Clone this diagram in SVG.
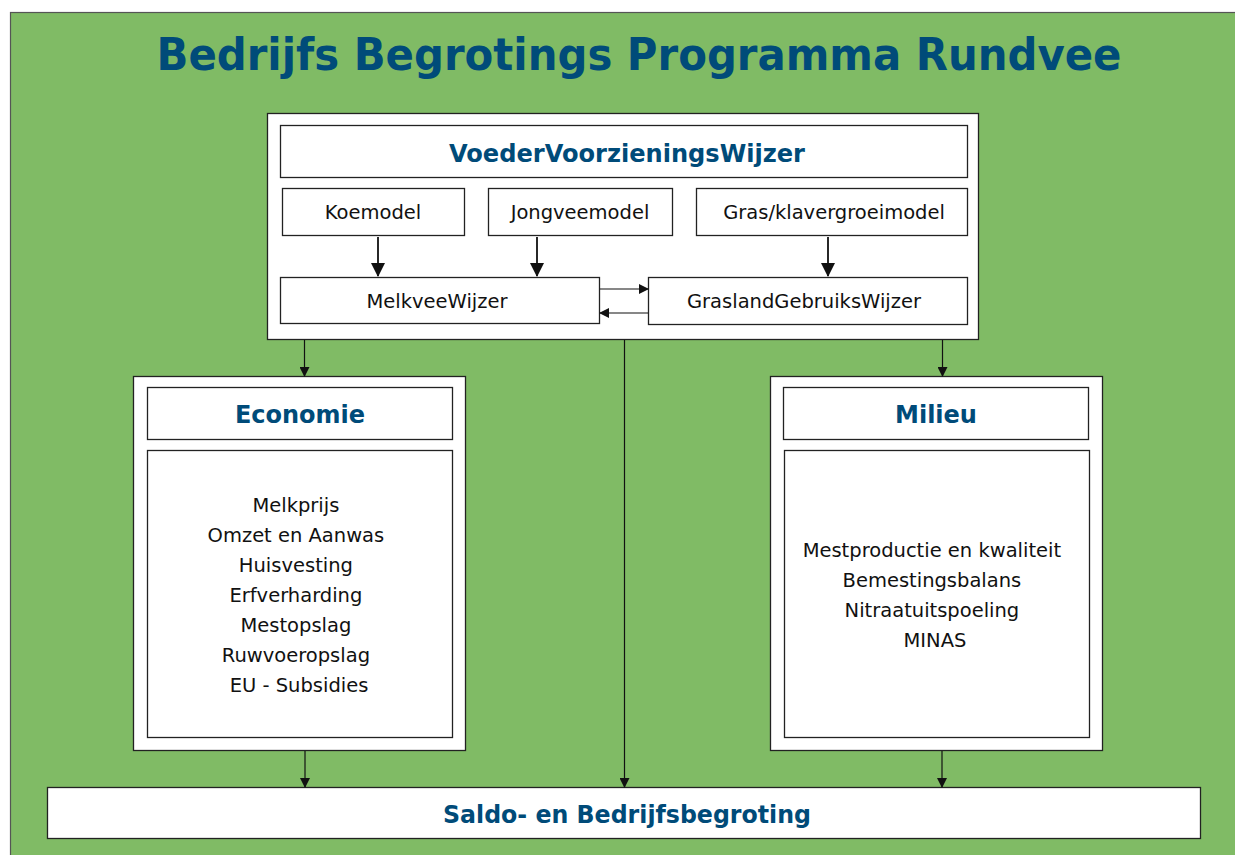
<svg xmlns="http://www.w3.org/2000/svg" width="1235" height="855" viewBox="0 0 1235 855">
<style>
.box{fill:#fff;stroke:#222;stroke-width:1.3}
.hd{font-family:"DejaVu Sans",Verdana,sans-serif;font-weight:bold;fill:#004b79;text-anchor:middle}
.tx{font-family:"DejaVu Sans",Verdana,sans-serif;font-size:19.5px;fill:#111;text-anchor:middle}
.ln{stroke:#111;stroke-width:1.2;fill:none}
.lnb{stroke:#111;stroke-width:1.8;fill:none}
</style>
<defs>
<marker id="a" markerWidth="10" markerHeight="10" refX="9" refY="5" orient="auto" markerUnits="userSpaceOnUse"><path d="M0,0 L10,5 L0,10 z" fill="#111"/></marker>
<marker id="b" markerWidth="14" markerHeight="14" refX="13" refY="7" orient="auto" markerUnits="userSpaceOnUse"><path d="M0,0 L14,7 L0,14 z" fill="#111"/></marker>
</defs>
<rect x="0" y="0" width="1235" height="855" fill="#fff"/>
<rect x="10.5" y="12.5" width="1230" height="850" fill="#80bb65" stroke="#555" stroke-width="1.2"/>
<text class="hd" x="639" y="70" font-size="44" textLength="965" lengthAdjust="spacingAndGlyphs">Bedrijfs Begrotings Programma Rundvee</text>

<g id="vvw">
<rect class="box" x="267.5" y="113.5" width="711" height="226"/>
<rect class="box" x="280.5" y="125.5" width="687" height="52"/>
<text class="hd" x="627" y="162" font-size="25" textLength="356" lengthAdjust="spacingAndGlyphs">VoederVoorzieningsWijzer</text>
</g>
<g id="koemodel">
<rect class="box" x="282.5" y="188.5" width="182" height="47"/>
<text class="tx" x="373" y="219">Koemodel</text>
</g>
<g id="jongveemodel">
<rect class="box" x="488.5" y="188.5" width="184" height="47"/>
<text class="tx" x="580" y="219">Jongveemodel</text>
</g>
<g id="gras">
<rect class="box" x="696.5" y="188.5" width="271" height="47"/>
<text class="tx" x="834" y="219">Gras/klavergroeimodel</text>
</g>
<g id="melkvee">
<rect class="box" x="280.5" y="277.5" width="319" height="46"/>
<text class="tx" x="437" y="308">MelkveeWijzer</text>
</g>
<g id="grasland">
<rect class="box" x="648.5" y="277.5" width="319" height="47"/>
<text class="tx" x="804" y="308">GraslandGebruiksWijzer</text>
</g>

<g id="economie">
<rect class="box" x="133.5" y="376.5" width="332" height="374"/>
<rect class="box" x="147.5" y="387.5" width="305" height="52"/>
<text class="hd" x="300" y="423" font-size="24">Economie</text>
<rect class="box" x="147.5" y="450.5" width="305" height="287"/>
<text class="tx" x="299">
<tspan x="299" y="512">Melkprijs</tspan>
<tspan x="299" y="542">Omzet en Aanwas</tspan>
<tspan x="299" y="572">Huisvesting</tspan>
<tspan x="299" y="602">Erfverharding</tspan>
<tspan x="299" y="632">Mestopslag</tspan>
<tspan x="299" y="662">Ruwvoeropslag</tspan>
<tspan x="299" y="692">EU - Subsidies</tspan>
</text>
</g>

<g id="milieu">
<rect class="box" x="770.5" y="376.5" width="332" height="374"/>
<rect class="box" x="783.5" y="387.5" width="305" height="52"/>
<text class="hd" x="936" y="423" font-size="24">Milieu</text>
<rect class="box" x="784.5" y="450.5" width="305" height="287"/>
<text class="tx" x="935">
<tspan x="935" y="557">Mestproductie en kwaliteit</tspan>
<tspan x="935" y="587">Bemestingsbalans</tspan>
<tspan x="935" y="617">Nitraatuitspoeling</tspan>
<tspan x="935" y="647">MINAS</tspan>
</text>
</g>

<g id="saldo">
<rect class="box" x="47.5" y="787.5" width="1153" height="51"/>
<text class="hd" x="627" y="823" font-size="25" textLength="368" lengthAdjust="spacingAndGlyphs">Saldo- en Bedrijfsbegroting</text>
</g>

<g id="connectors">
<line class="lnb" x1="378" y1="237" x2="378" y2="276" marker-end="url(#b)"/>
<line class="lnb" x1="537" y1="237" x2="537" y2="276" marker-end="url(#b)"/>
<line class="lnb" x1="828" y1="237" x2="828" y2="276" marker-end="url(#b)"/>
<line class="ln" x1="600" y1="289" x2="648" y2="289" marker-end="url(#a)"/>
<line class="ln" x1="648" y1="313" x2="600" y2="313" marker-end="url(#a)"/>
<line class="ln" x1="304.5" y1="340" x2="304.5" y2="376" marker-end="url(#a)"/>
<line class="ln" x1="624.5" y1="340" x2="624.5" y2="787" marker-end="url(#a)"/>
<line class="ln" x1="942.5" y1="340" x2="942.5" y2="376" marker-end="url(#a)"/>
<line class="ln" x1="305" y1="751" x2="305" y2="787" marker-end="url(#a)"/>
<line class="ln" x1="942" y1="751" x2="942" y2="787" marker-end="url(#a)"/>
</g>
</svg>
